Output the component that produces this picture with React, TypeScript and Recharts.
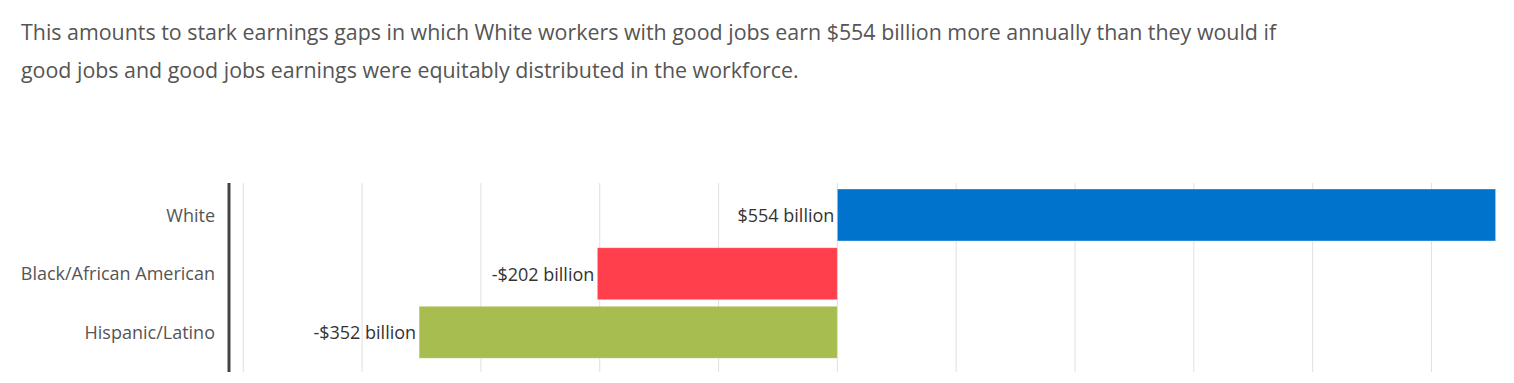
import { BarChart, Bar, XAxis, YAxis, CartesianGrid, Cell, LabelList } from 'recharts';

const categories = ['White', 'Black/African American', 'Hispanic/Latino'];
const values = [554, -202, -352];
const barColors = ['#0074cc', '#ff3f4b', '#a8bd50'];
const gridTicks = [-500, -400, -300, -200, -100, 0, 100, 200, 300, 400, 500];

const data = categories.map((name, i) => ({ name, value: values[i] }));

const formatBillions = (v: number) => (v < 0 ? `-$${Math.abs(v)} billion` : `$${v} billion`);

function ValueLabel(props: any) {
  const { x, y, width, height, value } = props;
  const left = Math.min(x, x + width);
  return (
    <text
      x={left - 3}
      y={y + height / 2}
      textAnchor="end"
      dominantBaseline="central"
      fill="#333"
      fontSize={18}
      fontFamily="'Open Sans', sans-serif"
    >
      {formatBillions(value)}
    </text>
  );
}

export default function App() {
  return (
    <div
      style={{
        position: 'absolute',
        top: 0,
        left: 0,
        width: 1514,
        height: 383,
        background: '#fff',
        fontFamily: "'Open Sans', sans-serif",
        overflow: 'hidden',
      }}
    >
      <div
        style={{
          position: 'absolute',
          left: 21,
          top: 13,
          width: 1290,
          fontSize: 21.4,
          lineHeight: '38px',
          color: '#555',
        }}
      >
        This amounts to stark earnings gaps in which White workers with good jobs earn $554 billion more annually than
        they would if good jobs and good jobs earnings were equitably distributed in the workforce.
      </div>

      <div style={{ position: 'absolute', left: 0, top: 170 }}>
        <BarChart
          width={1514}
          height={213}
          data={data}
          layout="vertical"
          margin={{ top: 13, right: 16, bottom: 11, left: 0 }}
          barSize={52}
        >
          <CartesianGrid horizontal={false} stroke="#e0e0e0" verticalValues={gridTicks} />
          <XAxis
            type="number"
            domain={[-512, 556]}
            ticks={gridTicks}
            allowDataOverflow
            height={0}
            tick={() => <g />}
            tickLine={false}
            axisLine={false}
          />
          <YAxis
            type="category"
            dataKey="name"
            width={229}
            padding={{ top: 3, bottom: 10 }}
            axisLine={{ stroke: '#444', strokeWidth: 3 }}
            tickLine={false}
            tickMargin={8}
            tick={{ fill: '#555', fontSize: 18, fontFamily: "'Open Sans', sans-serif" }}
          />
          <Bar dataKey="value" isAnimationActive={false} stroke="rgba(255,255,255,0.35)" strokeWidth={1}>
            {data.map((d, i) => (
              <Cell key={d.name} fill={barColors[i]} />
            ))}
            <LabelList dataKey="value" content={ValueLabel} />
          </Bar>
        </BarChart>
      </div>
    </div>
  );
}
